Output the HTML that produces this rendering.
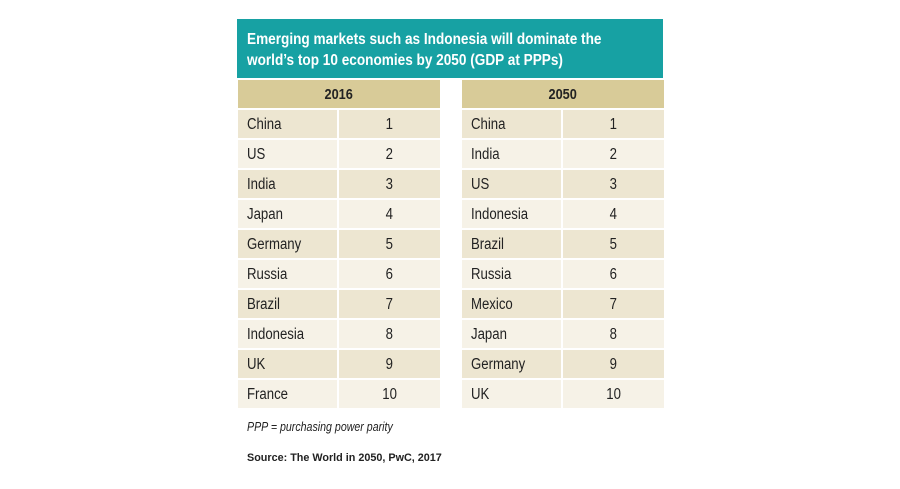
<!DOCTYPE html>
<html><head><style>
*{margin:0;padding:0;box-sizing:border-box}
body{width:900px;height:489px;background:#fff;position:relative;font-family:"Liberation Sans",sans-serif;color:#222}
.n{display:inline-block;transform:scaleX(0.85);transform-origin:left center;white-space:nowrap}
.c{display:inline-block;transform:scaleX(0.85);transform-origin:center center;white-space:nowrap}
.title{position:absolute;left:237px;top:19px;width:426px;height:59px;background:#17a1a3;color:#fff;font-weight:bold;font-size:16px;line-height:21px;padding:10px 0 0 10px}
.tbl{position:absolute;top:80px;width:202px}
.hd{height:28px;background:#d8cb98;font-weight:bold;font-size:15px;text-align:center;line-height:29px;margin-bottom:2px}
.row{display:flex;height:30px;border-bottom:2px solid #fff;font-size:15.5px;line-height:29px}
.row div:first-child{width:101px;padding-left:9px;border-right:2px solid #fff}
.row div:last-child{flex:1;text-align:center}
.row:nth-child(even){background:#ede6d1}
.row:nth-child(odd){background:#f6f2e7}
.note{position:absolute;left:247px;top:420px;font-style:italic;font-size:12.5px}
.src{position:absolute;left:247px;top:452px;font-weight:bold;font-size:10.8px}
</style></head><body>
<div class="title"><span class="n">Emerging markets such as Indonesia will dominate the</span><br><span class="n">world’s top 10 economies by 2050 (GDP at PPPs)</span></div>
<div class="tbl" style="left:238px">
<div class="hd"><span class="c">2016</span></div>
<div class="row"><div><span class="n">China</span></div><div><span class="c">1</span></div></div>
<div class="row"><div><span class="n">US</span></div><div><span class="c">2</span></div></div>
<div class="row"><div><span class="n">India</span></div><div><span class="c">3</span></div></div>
<div class="row"><div><span class="n">Japan</span></div><div><span class="c">4</span></div></div>
<div class="row"><div><span class="n">Germany</span></div><div><span class="c">5</span></div></div>
<div class="row"><div><span class="n">Russia</span></div><div><span class="c">6</span></div></div>
<div class="row"><div><span class="n">Brazil</span></div><div><span class="c">7</span></div></div>
<div class="row"><div><span class="n">Indonesia</span></div><div><span class="c">8</span></div></div>
<div class="row"><div><span class="n">UK</span></div><div><span class="c">9</span></div></div>
<div class="row"><div><span class="n">France</span></div><div><span class="c">10</span></div></div>
</div>
<div class="tbl" style="left:462px">
<div class="hd"><span class="c">2050</span></div>
<div class="row"><div><span class="n">China</span></div><div><span class="c">1</span></div></div>
<div class="row"><div><span class="n">India</span></div><div><span class="c">2</span></div></div>
<div class="row"><div><span class="n">US</span></div><div><span class="c">3</span></div></div>
<div class="row"><div><span class="n">Indonesia</span></div><div><span class="c">4</span></div></div>
<div class="row"><div><span class="n">Brazil</span></div><div><span class="c">5</span></div></div>
<div class="row"><div><span class="n">Russia</span></div><div><span class="c">6</span></div></div>
<div class="row"><div><span class="n">Mexico</span></div><div><span class="c">7</span></div></div>
<div class="row"><div><span class="n">Japan</span></div><div><span class="c">8</span></div></div>
<div class="row"><div><span class="n">Germany</span></div><div><span class="c">9</span></div></div>
<div class="row"><div><span class="n">UK</span></div><div><span class="c">10</span></div></div>
</div>
<div class="note"><span class="n">PPP = purchasing power parity</span></div>
<div class="src">Source: The World in 2050, PwC, 2017</div>
</body></html>
